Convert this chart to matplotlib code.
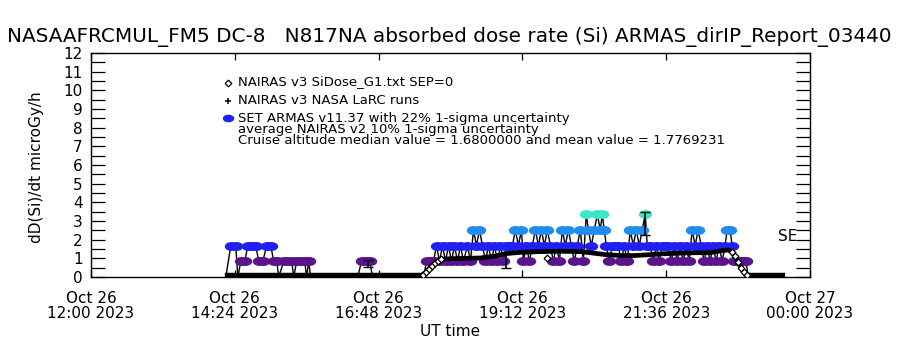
import numpy as np
import matplotlib
matplotlib.use("Agg")
import matplotlib.pyplot as plt
from matplotlib.markers import MarkerStyle
from matplotlib.transforms import Affine2D

plt.rcParams['font.family'] = ['DejaVu Sans']

# ---------------- data (x = minutes after 2023-10-26 12:00 UT) ----------------
title = "NASAAFRCMUL_FM5 DC-8   N817NA absorbed dose rate (Si) ARMAS_dirIP_Report_03440"
xtick_minutes = [0, 144, 288, 432, 576, 720]
xtick_labels = ["Oct 26\n12:00 2023", "Oct 26\n14:24 2023", "Oct 26\n16:48 2023",
                "Oct 26\n19:12 2023", "Oct 26\n21:36 2023", "Oct 27\n00:00 2023"]

# NAIRAS v3 SiDose_G1 (SEP=0) model along the flight track
nairas_min = [134, 200, 260, 330, 332, 335, 338, 341, 344, 347, 350, 360, 375, 390, 405, 415,
              430, 450, 470, 490, 500, 515, 530, 545, 560, 575, 590, 605, 620, 630, 638,
              642, 645, 648, 651, 654, 657, 660, 695]
nairas_val = [0.1, 0.1, 0.1, 0.1, 0.12, 0.25, 0.42, 0.6, 0.75, 0.88, 0.95, 0.98, 1.0, 1.02, 1.12, 1.25,
              1.32, 1.36, 1.38, 1.36, 1.3, 1.2, 1.15, 1.15, 1.2, 1.25, 1.28, 1.3, 1.3, 1.4, 1.45,
              1.35, 1.1, 0.8, 0.5, 0.25, 0.12, 0.1, 0.1]

# NAIRAS v2 average with 10% 1-sigma uncertainty
err_min = [277, 416, 555]
err_val = [0.74, 0.9, 2.86]
err_sig = [0.18, 0.4, 0.6]

# single diamond model point
diamond_min = [457]
diamond_val = [1.0]

# ARMAS v11.37 measurements
armas_min = [135, 140, 145, 147, 150, 154, 157, 161, 165, 168, 172, 176, 180, 183, 186, 188,
             193, 197, 201, 203, 206, 210, 214, 216, 218, 220, 267, 271, 275, 279, 282,
             333, 336, 339, 343, 346, 349, 352, 355, 358, 361, 364, 367, 370, 373, 377, 380,
             383, 386, 389, 392, 395, 398, 401, 404, 407, 410, 413, 416, 419, 422, 425, 428,
             431, 433, 436, 439, 442, 445, 448, 451, 454, 457, 460, 463, 466, 469, 472, 475,
             478, 481, 484, 487, 490, 493, 496, 498, 501, 504, 507, 510, 512, 514, 516, 519,
             522, 525, 528, 531, 534, 537, 540, 543, 546, 549, 552, 555, 557, 560, 563, 566,
             569, 572, 575, 578, 581, 584, 587, 590, 593, 596, 599, 602, 605, 608, 611, 614,
             617, 620, 623, 626, 629, 632, 635, 637, 640, 642, 644, 647, 650, 653, 656, 658]
armas_val = [0, 1.68, 1.68, 0, 0.84, 0.84, 1.68, 1.68, 1.68, 0.84, 0.84, 1.68, 1.68, 0.84, 0.84, 0,
             0.84, 0.84, 0.84, 0, 0.84, 0.84, 0.84, 0, 0.84, 0, 0, 0.84, 0.84, 0.84, 0,
             0, 0.84, 0.84, 0.84, 1.68, 0.84, 1.68, 0.84, 1.68, 0.84, 1.68, 0.84, 1.68, 0.84, 1.68, 0.84,
             2.52, 1.68, 2.52, 1.68, 0.84, 1.68, 0.84, 1.68, 0.84, 1.68, 0.84, 1.68, 1.68, 1.68, 2.52, 1.68,
             2.52, 0.84, 1.68, 0.84, 1.68, 2.52, 1.68, 2.52, 1.68, 2.52, 1.68, 0.84, 1.68, 0.84, 2.52, 1.68,
             2.52, 1.68, 0.84, 1.68, 2.52, 0.84, 3.36, 2.52, 1.68, 2.52, 3.36, 2.52, 3.36, 2.52, 1.68, 0.84,
             1.68, 1.68, 1.68, 0.84, 1.68, 0.84, 2.52, 1.68, 2.52, 1.68, 2.52, 3.36, 1.68, 1.68, 0.84, 1.68,
             0.84, 1.68, 1.68, 1.68, 0.84, 1.68, 0.84, 1.68, 0.84, 1.68, 0.84, 2.52, 1.68, 2.52, 1.68, 0.84,
             1.68, 0.84, 1.68, 0.84, 1.68, 0.84, 1.68, 2.52, 2.52, 1.68, 0.84, 0.84, 0.84, 0.84, 0.84, 0]

level_colors = {0.84: "#5a148c", 1.68: "#2020f0", 2.52: "#1e8cf0", 3.36: "#3ce6c8"}

legend_lines = ["NAIRAS v3 SiDose_G1.txt SEP=0",
                "NAIRAS v3 NASA LaRC runs",
                "SET ARMAS v11.37 with 22% 1-sigma uncertainty",
                "average NAIRAS v2 10% 1-sigma uncertainty",
                "Cruise altitude median value = 1.6800000 and mean value = 1.7769231"]

# ---------------- figure ----------------
W, H = 900, 350
fig = plt.figure(figsize=(9, 3.5), dpi=100)
ax = fig.add_axes([91 / W, 1 - 277 / H, (810 - 91) / W, (277 - 53) / H])

ax.set_xlim(0, 720)
ax.set_ylim(0, 12)

# ARMAS connecting line
ax.plot(armas_min, armas_val, color="black", lw=1.0, zorder=2)
ell = MarkerStyle('o', transform=Affine2D().scale(1.6, 1.0))
am = np.array(armas_min)
av = np.array(armas_val)
for lev, col in level_colors.items():
    sel = np.isclose(av, lev)
    ax.plot(am[sel], av[sel], linestyle="none", marker=ell, ms=5.4, color=col,
            mec=col, zorder=3)

# NAIRAS model line; diamonds visible on the ascent / descent
ax.plot(nairas_min, nairas_val, color="black", lw=3.4, zorder=4, solid_capstyle="butt")
steep = [4, 5, 6, 7, 8, 9, 10, 31, 32, 33, 34, 35, 36]
ax.plot(nairas_min, nairas_val, linestyle="none", marker="D", ms=3.4, mfc="white",
        mec="black", mew=0.9, zorder=5, markevery=steep)
ax.plot(diamond_min, diamond_val, linestyle="none", marker="D", ms=3.4, mfc="white",
        mec="black", mew=0.9, zorder=5)
ax.errorbar(err_min, err_val, yerr=err_sig, fmt="none", ecolor="black", elinewidth=1.2,
            capsize=3.5, capthick=1.0, zorder=6)

ax.text(707, 2.15, "SE", ha="right", va="center", fontsize=11, zorder=7)

# axes styling
for s in ax.spines.values():
    s.set_linewidth(1.0)
ax.set_xticks(xtick_minutes)
ax.set_xticklabels(xtick_labels, fontsize=11, linespacing=1.0)
ax.set_yticks(np.arange(0, 13, 1))
ax.set_yticklabels([str(v) for v in range(13)], fontsize=11)
ax.set_yticks(np.arange(0, 12.01, 0.5), minor=True)
ax.tick_params(axis="y", which="both", direction="in", length=10, width=0.9,
               left=True, right=True, pad=6)
ax.tick_params(axis="x", which="major", direction="in", length=5, width=0.9,
               top=True, bottom=True, pad=10)

ax.set_ylabel("dD(Si)/dt microGy/h", fontsize=11)
ax.yaxis.set_label_coords(-(91 - 44) / (810 - 91), (277 - 167) / (277 - 53))

fig.text(449 / W, 1 - 37 / H, title, ha="center", va="center", fontsize=14.4)
fig.text(450 / W, 1 - 332 / H, "UT time", ha="center", va="center", fontsize=11)

# in-plot legend
ys = [82, 100, 118, 130, 141]
for txt, y in zip(legend_lines, ys):
    fig.text(238 / W, 1 - y / H, txt, ha="left", va="center", fontsize=9.5)
fig.lines.append(plt.Line2D([228 / W], [1 - 83 / H], transform=fig.transFigure, marker="D",
                            ms=3.4, mfc="white", mec="black", mew=0.9, linestyle="none"))
fig.lines.append(plt.Line2D([228 / W], [1 - 101 / H], transform=fig.transFigure, marker="+",
                            ms=5, mec="black", mew=1.1, linestyle="none"))
fig.lines.append(plt.Line2D([228 / W], [1 - 118 / H], transform=fig.transFigure, marker=ell,
                            ms=4.5, mfc="#2020f0", mec="#2020f0", linestyle="none"))

fig.savefig("out.png", dpi=100)
